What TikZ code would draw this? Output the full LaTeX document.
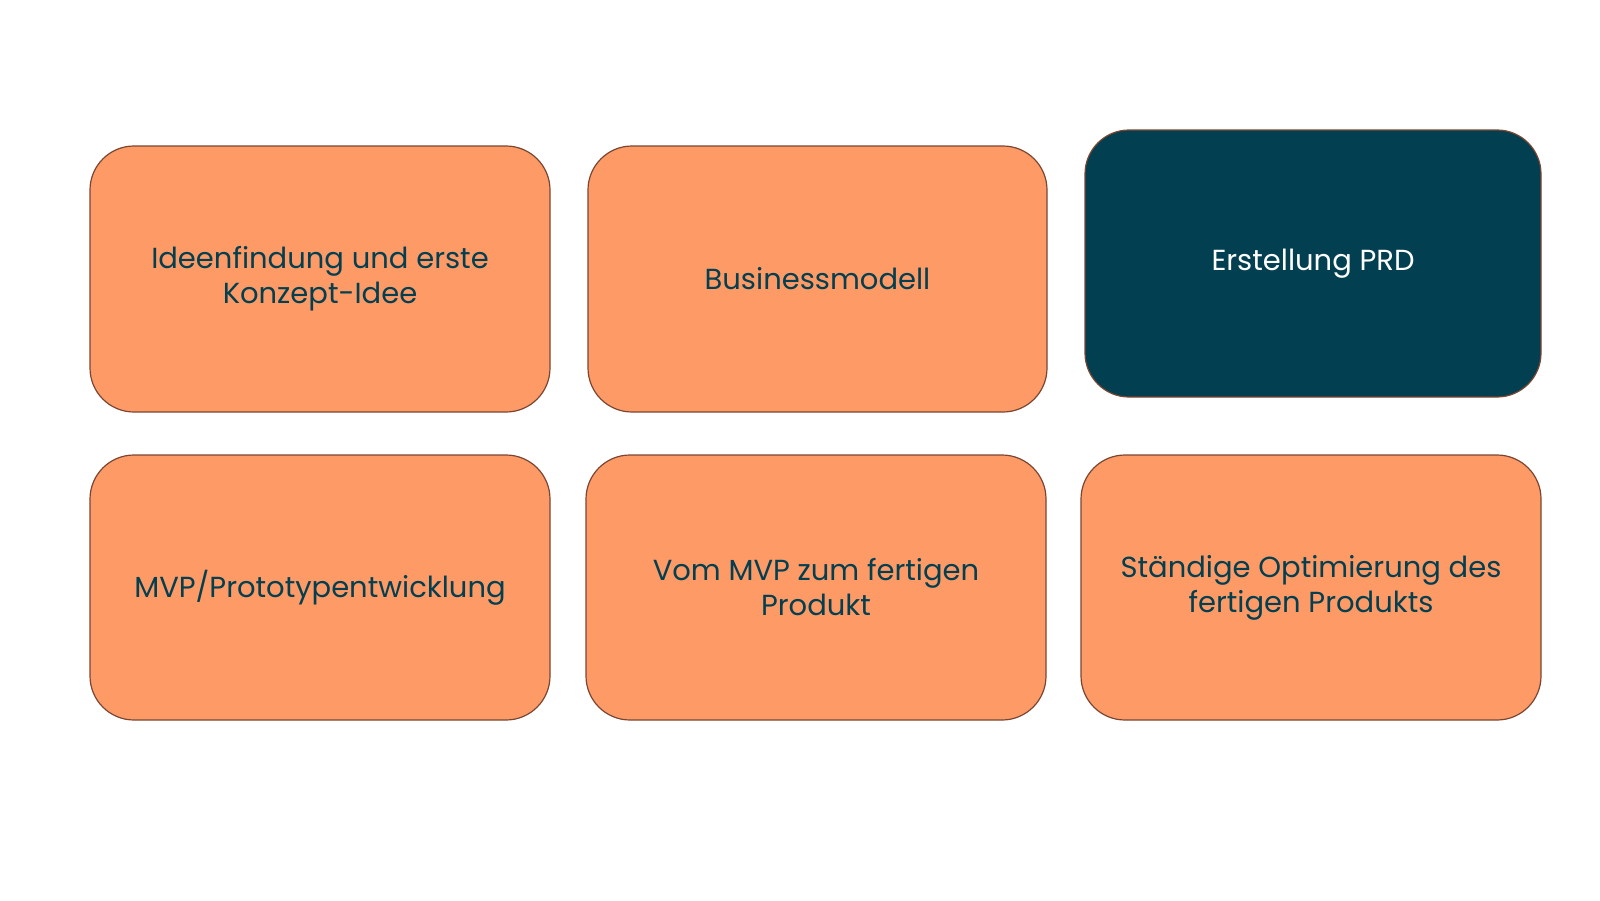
\documentclass[tikz,border=0pt]{standalone}
\usepackage{fontspec}
\setmainfont{Poppins}
\definecolor{org}{HTML}{FE9A66}
\definecolor{teal}{HTML}{023F50}
\definecolor{edge}{HTML}{7A4632}
\begin{document}
\begin{tikzpicture}[x=0.5pt,y=-0.5pt,
  box/.style={draw=edge,line width=0.6pt,fill=org,rounded corners=22pt,text=teal,align=center,font=\fontsize{14.5}{17.5}\selectfont,minimum width=#1*0.5pt},
  box/.default=460]
\path[use as bounding box] (0,0) rectangle (1600,900);
\node[box,minimum height=133pt] (b1) at (320,279) {Ideenfindung und erste\\Konzept-Idee};
\node[box=459,minimum height=133pt] (b2) at (817.5,279) {Businessmodell};
\node[box=456,minimum height=133.5pt,fill=teal,text=white] (b3) at (1313,263.5) {Erstellung PRD};
\node[box,minimum height=132.5pt] (b4) at (320,587.5) {MVP/Prototypentwicklung};
\node[box,minimum height=132.5pt] (b5) at (816,587.5) {Vom MVP zum fertigen\\Produkt};
\node[box,minimum height=132.5pt] (b6) at (1311,587.5) {Ständige Optimierung des\\fertigen Produkts};
\end{tikzpicture}
\end{document}
